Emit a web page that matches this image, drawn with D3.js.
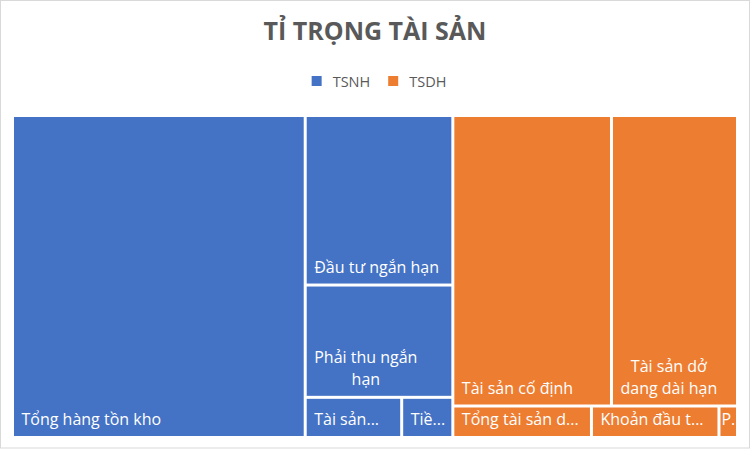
<!DOCTYPE html>
<html>
<head>
<meta charset="utf-8">
<script src="https://cdn.jsdelivr.net/npm/d3@7"></script>
<style>
  body { margin: 0; background: #fff; }
  svg { display: block; font-family: 'Open Sans', 'Noto Sans', sans-serif; }
</style>
</head>
<body>
<svg id="chart"></svg>
<script>
const title = 'TỈ TRỌNG TÀI SẢN';
const groups = ['TSNH', 'TSDH'];
const groupColors = ['#4472C4', '#ED7D31'];

const tsnhNames = ['Tổng hàng tồn kho', 'Đầu tư ngắn hạn', 'Phải thu ngắn hạn', 'Tài sản ngắn hạn khác', 'Tiền và các khoản tương đương tiền'];
const tsnhValues = [40.37, 10.72, 7.10, 1.66, 0.88];

const tsdhNames = ['Tài sản cố định', 'Tài sản dở dang dài hạn', 'Tổng tài sản dài hạn khác', 'Khoản đầu tư tài chính dài hạn', 'Phải thu dài hạn'];
const tsdhValues = [19.74, 15.68, 1.87, 1.72, 0.25];

const width = 751;
const height = 451;
const margin = { top: 117, right: 15, bottom: 15, left: 14 };
const chartWidth = width - margin.left - margin.right;
const chartHeight = height - margin.top - margin.bottom;

const svg = d3.select('#chart')
  .attr('width', width)
  .attr('height', height);

// Chart frame
svg.append('rect')
  .attr('x', 0.5)
  .attr('y', 0.5)
  .attr('width', width - 2)
  .attr('height', height - 3.5)
  .attr('fill', '#fff')
  .attr('stroke', '#d9d9d9');

// Title
svg.append('text')
  .attr('x', 375)
  .attr('y', 40)
  .attr('text-anchor', 'middle')
  .attr('fill', '#595959')
  .style('font-size', '25px')
  .style('font-weight', 'bold')
  .text(title);

// Legend
const legend = svg.append('g');
let lx = 0;
groups.forEach((g, i) => {
  const item = legend.append('g').attr('transform', `translate(${lx},0)`);
  item.append('rect')
    .attr('x', 0)
    .attr('y', 76)
    .attr('width', 10)
    .attr('height', 10)
    .attr('fill', groupColors[i]);
  const t = item.append('text')
    .attr('x', 21)
    .attr('y', 87)
    .attr('fill', '#595959')
    .style('font-size', '14.5px')
    .text(g);
  lx += 21 + t.node().getComputedTextLength() + 18;
});
const legendWidth = lx - 18;
legend.attr('transform', `translate(${379 - legendWidth / 2},0)`);

// Hierarchy
const tableData = {
  name: 'root',
  children: [
    { name: groups[0], children: tsnhNames.map((n, i) => ({ name: n, value: tsnhValues[i] })) },
    { name: groups[1], children: tsdhNames.map((n, i) => ({ name: n, value: tsdhValues[i] })) }
  ]
};

const root = d3.hierarchy(tableData)
  .sum(d => d.value || 0)
  .sort((a, b) => b.value - a.value);

d3.treemap()
  .size([chartWidth, chartHeight])
  .tile(d3.treemapSquarify)
  .paddingInner(3)
  .round(false)(root);

const color = d3.scaleOrdinal().domain(groups).range(groupColors);

const plot = svg.append('g')
  .attr('transform', `translate(${margin.left},${margin.top})`);

const defs = svg.append('defs');

const cells = plot.selectAll('.cell')
  .data(root.leaves())
  .enter()
  .append('g')
  .attr('class', 'cell');

cells.append('rect')
  .attr('x', d => d.x0)
  .attr('y', d => d.y0)
  .attr('width', d => d.x1 - d.x0)
  .attr('height', d => d.y1 - d.y0)
  .attr('fill', d => color(d.parent.data.name));

// Clip each label to its cell
cells.each(function(d, i) {
  defs.append('clipPath')
    .attr('id', 'clip-' + i)
    .append('rect')
    .attr('x', d.x0)
    .attr('y', d.y0)
    .attr('width', d.x1 - d.x0)
    .attr('height', d.y1 - d.y0);
});

// Labels: wrap words, add dots when the text does not fit
const fontSize = 16;
const lineHeight = 21.7;
const padLeft = 7.5;

const measure = svg.append('text')
  .style('font-size', fontSize + 'px')
  .attr('visibility', 'hidden');
function textWidth(s) {
  measure.text(s);
  return measure.node().getComputedTextLength();
}
function cutToFit(base, maxW) {
  let cut = base;
  while (cut.length > 1 && textWidth(cut.trimEnd() + '...') > maxW) {
    cut = cut.slice(0, -1);
  }
  return cut.trimEnd() + '...';
}

cells.each(function(d, i) {
  const w = d.x1 - d.x0;
  const h = d.y1 - d.y0;
  const wrapW = w - 14;
  const fitW = w - 12;
  const maxLines = Math.max(1, Math.floor((h - 8) / lineHeight));
  const words = d.data.name.split(' ');

  let lines = [];
  let current = '';
  words.forEach(word => {
    const next = current ? current + ' ' + word : word;
    if (current && textWidth(next) > wrapW) {
      lines.push(current);
      current = word;
    } else {
      current = next;
    }
  });
  if (current) lines.push(current);

  if (lines.length > maxLines) {
    lines = lines.slice(0, maxLines);
    const last = lines[maxLines - 1];
    lines[maxLines - 1] = textWidth(last + '...') <= fitW ? last + '...' : cutToFit(last, fitW);
  }
  lines = lines.map(l => (textWidth(l) > fitW ? cutToFit(l.replace(/\.\.\.$/, ''), fitW) : l));

  const blockW = d3.max(lines, l => textWidth(l));
  const left = blockW > fitW ? 1 : padLeft;
  const cx = d.x0 + left + blockW / 2;
  const baseY = d.y1 - 11;

  const label = d3.select(this).append('text')
    .attr('clip-path', `url(#clip-${i})`)
    .attr('text-anchor', 'middle')
    .attr('fill', '#fff')
    .style('font-size', fontSize + 'px');

  lines.forEach((l, j) => {
    label.append('tspan')
      .attr('x', cx)
      .attr('y', baseY - (lines.length - 1 - j) * lineHeight)
      .text(l);
  });
});

measure.remove();
</script>
</body>
</html>
